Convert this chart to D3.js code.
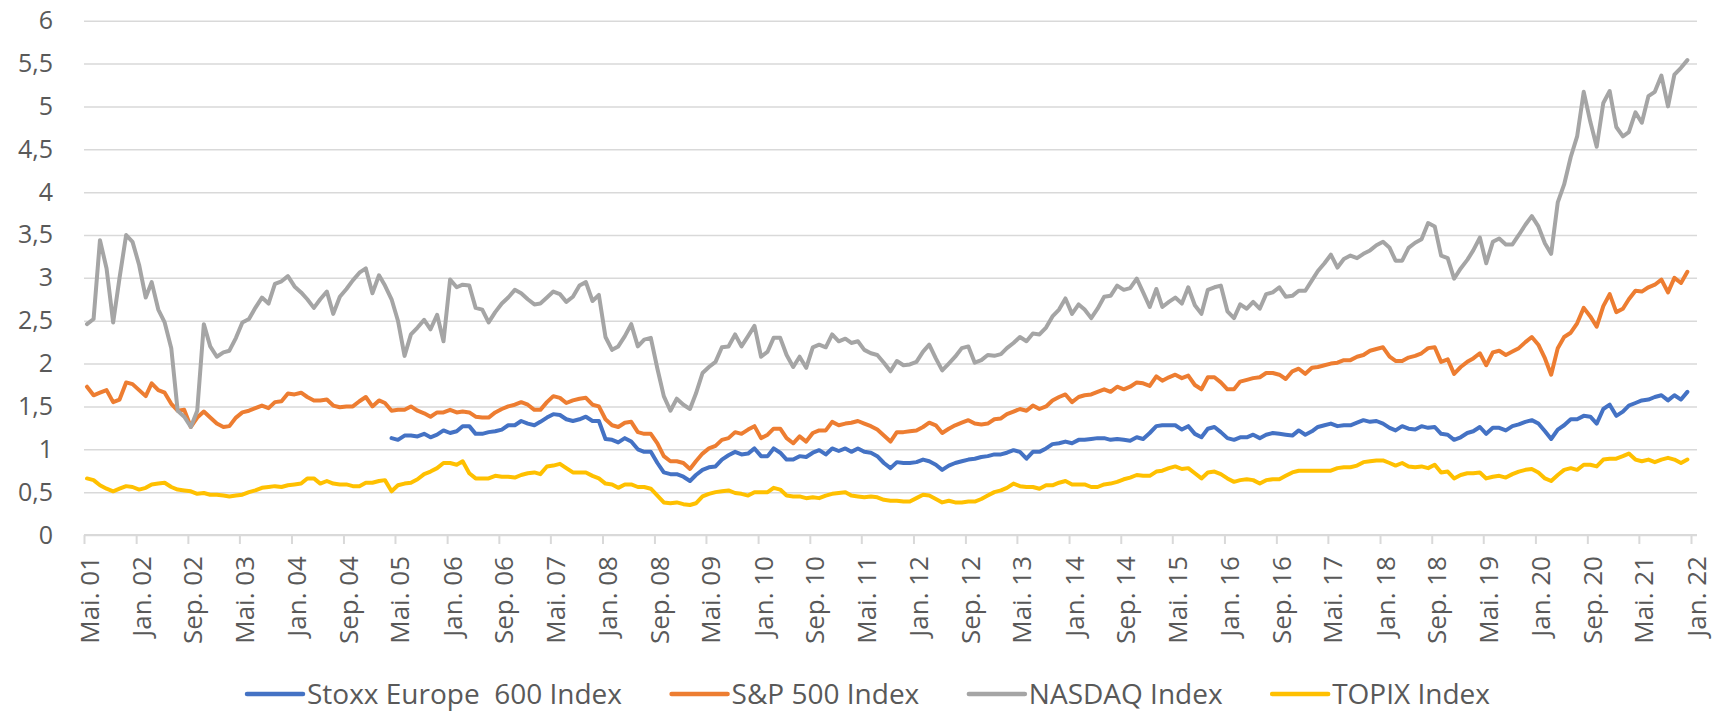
<!DOCTYPE html>
<html>
<head>
<meta charset="utf-8">
<script src="https://cdn.jsdelivr.net/npm/d3@7"></script>
<style>
  body { margin: 0; background: #fff; }
  svg text { font-family: "Open Sans", sans-serif; fill: #595959; }
</style>
</head>
<body>
<svg id="chart" width="1714" height="711"></svg>
<script>
const width = 1714;
const height = 711;

// monthly values, first point May 2001, last point Dec 2021
const firstYear = 2001, firstMonth = 4;
const stoxxOffset = 47; // Stoxx series begins Apr 2005

const nasdaq = [
  2.46, 2.52, 3.44, 3.11, 2.48, 3.00, 3.50, 3.42, 3.15, 2.77,
  2.95, 2.63, 2.48, 2.18, 1.45, 1.38, 1.26, 1.45, 2.46, 2.20,
  2.08, 2.13, 2.15, 2.30, 2.48, 2.52, 2.65, 2.77, 2.70, 2.93,
  2.96, 3.02, 2.90, 2.83, 2.75, 2.65, 2.75, 2.84, 2.58, 2.78,
  2.87, 2.97, 3.06, 3.11, 2.82, 3.03, 2.91, 2.75, 2.50, 2.09,
  2.34, 2.42, 2.51, 2.40, 2.57, 2.26, 2.98, 2.89, 2.92, 2.91,
  2.65, 2.63, 2.48, 2.60, 2.70, 2.77, 2.86, 2.82, 2.75, 2.69,
  2.70, 2.77, 2.84, 2.81, 2.72, 2.78, 2.91, 2.95, 2.73, 2.80,
  2.31, 2.16, 2.20, 2.32, 2.46, 2.20, 2.28, 2.30, 1.94, 1.62,
  1.45, 1.59, 1.52, 1.47, 1.65, 1.89, 1.96, 2.02, 2.19, 2.20,
  2.34, 2.20, 2.32, 2.44, 2.08, 2.14, 2.30, 2.30, 2.10, 1.96,
  2.08, 1.95, 2.19, 2.22, 2.19, 2.34, 2.26, 2.29, 2.24, 2.26,
  2.16, 2.12, 2.10, 2.01, 1.91, 2.03, 1.98, 1.99, 2.02, 2.14,
  2.22, 2.06, 1.92, 2.00, 2.08, 2.18, 2.20, 2.01, 2.04, 2.10,
  2.09, 2.11, 2.18, 2.24, 2.31, 2.26, 2.35, 2.34, 2.42, 2.55,
  2.63, 2.76, 2.58, 2.69, 2.63, 2.53, 2.64, 2.78, 2.79, 2.91,
  2.86, 2.88, 2.99, 2.83, 2.66, 2.87, 2.66, 2.72, 2.77, 2.70,
  2.89, 2.68, 2.58, 2.86, 2.89, 2.91, 2.61, 2.53, 2.69, 2.64,
  2.72, 2.64, 2.81, 2.83, 2.89, 2.78, 2.79, 2.85, 2.85, 2.97,
  3.08, 3.17, 3.27, 3.12, 3.22, 3.26, 3.23, 3.28, 3.32, 3.38,
  3.42, 3.35, 3.20, 3.20, 3.35, 3.41, 3.45, 3.64, 3.60, 3.26,
  3.23, 2.99, 3.11, 3.21, 3.32, 3.47, 3.17, 3.42, 3.46, 3.39,
  3.39, 3.50, 3.62, 3.72, 3.60, 3.40, 3.28, 3.88, 4.09, 4.41,
  4.65, 5.17, 4.82, 4.53, 5.04, 5.18, 4.76, 4.65, 4.70, 4.93,
  4.81, 5.12, 5.17, 5.36, 5.00, 5.37, 5.45, 5.54
];

const sp500 = [
  1.73, 1.63, 1.66, 1.69, 1.55, 1.58, 1.78, 1.76, 1.69, 1.62,
  1.77, 1.69, 1.66, 1.53, 1.45, 1.46, 1.26, 1.37, 1.44, 1.37,
  1.30, 1.26, 1.27, 1.37, 1.43, 1.45, 1.48, 1.51, 1.48, 1.55,
  1.56, 1.65, 1.64, 1.66, 1.61, 1.57, 1.57, 1.58, 1.51, 1.49,
  1.50, 1.50, 1.56, 1.61, 1.50, 1.57, 1.54, 1.45, 1.46, 1.46,
  1.50, 1.45, 1.42, 1.38, 1.43, 1.43, 1.46, 1.43, 1.44, 1.43,
  1.38, 1.37, 1.37, 1.43, 1.47, 1.50, 1.52, 1.55, 1.52, 1.46,
  1.46, 1.55, 1.62, 1.60, 1.54, 1.57, 1.59, 1.60, 1.52, 1.50,
  1.35, 1.28, 1.26, 1.31, 1.32, 1.20, 1.18, 1.18, 1.07, 0.92,
  0.86, 0.86, 0.84, 0.77, 0.86, 0.95, 1.01, 1.04, 1.11, 1.13,
  1.20, 1.18, 1.23, 1.27, 1.13, 1.17, 1.24, 1.24, 1.13, 1.07,
  1.15, 1.09, 1.19, 1.22, 1.22, 1.32, 1.28, 1.30, 1.31, 1.33,
  1.30, 1.27, 1.23, 1.16, 1.09, 1.20, 1.20, 1.21, 1.22, 1.26,
  1.31, 1.28, 1.19, 1.24, 1.28, 1.31, 1.34, 1.30, 1.29, 1.30,
  1.35, 1.36, 1.41, 1.44, 1.47, 1.45, 1.51, 1.47, 1.50, 1.57,
  1.61, 1.64, 1.55, 1.61, 1.63, 1.64, 1.67, 1.70, 1.67, 1.73,
  1.70, 1.73, 1.78, 1.77, 1.74, 1.85, 1.80, 1.84, 1.87, 1.83,
  1.86, 1.75, 1.70, 1.84, 1.84, 1.78, 1.70, 1.70, 1.79, 1.81,
  1.83, 1.84, 1.89, 1.89, 1.87, 1.82, 1.91, 1.94, 1.88, 1.95,
  1.96, 1.98, 2.00, 2.01, 2.04, 2.04, 2.08, 2.10, 2.15, 2.17,
  2.19, 2.08, 2.03, 2.03, 2.07, 2.09, 2.12, 2.18, 2.19, 2.02,
  2.05, 1.88, 1.96, 2.02, 2.06, 2.12, 1.98, 2.13, 2.15, 2.10,
  2.14, 2.18, 2.25, 2.31, 2.22, 2.06, 1.87, 2.18, 2.31, 2.36,
  2.47, 2.65, 2.55, 2.43, 2.67, 2.81, 2.60, 2.64, 2.75, 2.85,
  2.84, 2.89, 2.92, 2.98, 2.83, 3.00, 2.94, 3.07
];

const stoxx = [
  1.13, 1.11, 1.16, 1.16, 1.15, 1.18, 1.14, 1.17, 1.22, 1.19,
  1.21, 1.27, 1.27, 1.18, 1.18, 1.20, 1.21, 1.23, 1.28, 1.28,
  1.33, 1.30, 1.28, 1.32, 1.37, 1.41, 1.40, 1.35, 1.33, 1.35,
  1.38, 1.33, 1.33, 1.12, 1.11, 1.08, 1.13, 1.09, 1.00, 0.97,
  0.97, 0.84, 0.73, 0.71, 0.71, 0.68, 0.63, 0.70, 0.76, 0.79,
  0.80, 0.88, 0.93, 0.97, 0.94, 0.95, 1.01, 0.92, 0.92, 1.01,
  0.96, 0.88, 0.88, 0.92, 0.91, 0.96, 0.99, 0.94, 1.01, 0.98,
  1.01, 0.97, 1.01, 0.97, 0.96, 0.92, 0.84, 0.78, 0.85, 0.84,
  0.84, 0.85, 0.88, 0.86, 0.82, 0.76, 0.81, 0.84, 0.86, 0.88,
  0.89, 0.91, 0.92, 0.94, 0.94, 0.96, 0.99, 0.97, 0.89, 0.97,
  0.97, 1.01, 1.06, 1.07, 1.09, 1.07, 1.11, 1.11, 1.12, 1.13,
  1.13, 1.11, 1.12, 1.11, 1.10, 1.14, 1.12, 1.19, 1.27, 1.28,
  1.28, 1.28, 1.23, 1.27, 1.18, 1.14, 1.24, 1.26, 1.20, 1.13,
  1.11, 1.14, 1.14, 1.17, 1.13, 1.17, 1.19, 1.18, 1.17, 1.16,
  1.22, 1.17, 1.21, 1.26, 1.28, 1.30, 1.27, 1.28, 1.28, 1.31,
  1.34, 1.32, 1.33, 1.30, 1.25, 1.22, 1.27, 1.24, 1.23, 1.27,
  1.25, 1.26, 1.18, 1.17, 1.11, 1.14, 1.19, 1.21, 1.26, 1.18,
  1.25, 1.25, 1.22, 1.27, 1.29, 1.32, 1.34, 1.30, 1.21, 1.12,
  1.23, 1.28, 1.35, 1.35, 1.39, 1.38, 1.30, 1.47, 1.52, 1.39,
  1.44, 1.51, 1.54, 1.57, 1.58, 1.61, 1.63, 1.57, 1.63, 1.58,
  1.67
];

const topix = [
  0.66, 0.64, 0.58, 0.54, 0.51, 0.54, 0.57, 0.56, 0.53, 0.55,
  0.59, 0.60, 0.61, 0.56, 0.53, 0.52, 0.51, 0.48, 0.49, 0.47,
  0.47, 0.46, 0.45, 0.46, 0.47, 0.50, 0.52, 0.55, 0.56, 0.57,
  0.56, 0.58, 0.59, 0.60, 0.66, 0.66, 0.60, 0.63, 0.60, 0.59,
  0.59, 0.57, 0.57, 0.61, 0.61, 0.63, 0.64, 0.51, 0.58, 0.60,
  0.61, 0.65, 0.71, 0.74, 0.78, 0.84, 0.84, 0.82, 0.86, 0.72,
  0.66, 0.66, 0.66, 0.69, 0.68, 0.68, 0.67, 0.70, 0.72, 0.73,
  0.71, 0.80, 0.81, 0.83, 0.78, 0.73, 0.73, 0.73, 0.69, 0.66,
  0.60, 0.59, 0.55, 0.59, 0.59, 0.56, 0.56, 0.54, 0.46, 0.38,
  0.37, 0.38, 0.36, 0.35, 0.37, 0.45, 0.48, 0.50, 0.51, 0.52,
  0.49, 0.48, 0.46, 0.50, 0.50, 0.50, 0.55, 0.53, 0.46, 0.45,
  0.45, 0.43, 0.44, 0.43, 0.46, 0.48, 0.49, 0.50, 0.46, 0.45,
  0.44, 0.45, 0.44, 0.41, 0.40, 0.40, 0.39, 0.39, 0.43, 0.47,
  0.46, 0.42, 0.38, 0.40, 0.38, 0.38, 0.39, 0.39, 0.42, 0.46,
  0.50, 0.52, 0.55, 0.60, 0.57, 0.56, 0.56, 0.54, 0.58, 0.58,
  0.61, 0.63, 0.59, 0.59, 0.59, 0.56, 0.56, 0.59, 0.60, 0.62,
  0.65, 0.67, 0.70, 0.69, 0.69, 0.74, 0.75, 0.78, 0.80, 0.77,
  0.78, 0.72, 0.66, 0.73, 0.74, 0.71, 0.66, 0.62, 0.64, 0.65,
  0.64, 0.60, 0.64, 0.65, 0.65, 0.69, 0.73, 0.75, 0.75, 0.75,
  0.75, 0.75, 0.75, 0.78, 0.79, 0.79, 0.81, 0.85, 0.86, 0.87,
  0.87, 0.84, 0.81, 0.84, 0.80, 0.79, 0.80, 0.78, 0.82, 0.73,
  0.74, 0.66, 0.70, 0.72, 0.72, 0.73, 0.66, 0.68, 0.69, 0.67,
  0.71, 0.74, 0.76, 0.77, 0.73, 0.66, 0.63, 0.70, 0.76, 0.78,
  0.76, 0.82, 0.82, 0.80, 0.88, 0.89, 0.89, 0.92, 0.95, 0.88,
  0.86, 0.88, 0.85, 0.88, 0.90, 0.88, 0.84, 0.88
];

const tickLabels = [
  "Mai. 01", "Jan. 02", "Sep. 02", "Mai. 03", "Jan. 04", "Sep. 04", "Mai. 05", "Jan. 06",
  "Sep. 06", "Mai. 07", "Jan. 08", "Sep. 08", "Mai. 09", "Jan. 10", "Sep. 10", "Mai. 11",
  "Jan. 12", "Sep. 12", "Mai. 13", "Jan. 14", "Sep. 14", "Mai. 15", "Jan. 16", "Sep. 16",
  "Mai. 17", "Jan. 18", "Sep. 18", "Mai. 19", "Jan. 20", "Sep. 20", "Mai. 21", "Jan. 22"
];
const yTicks = [0, 0.5, 1, 1.5, 2, 2.5, 3, 3.5, 4, 4.5, 5, 5.5, 6];

const seriesNames = ["Stoxx Europe  600 Index", "S&P 500 Index", "NASDAQ Index", "TOPIX Index"];
const seriesColors = ["#4472C4", "#ED7D31", "#A5A5A5", "#FFC000"];

// plot frame
const plotLeft = 84, plotRight = 1697, axisEnd = 1691;
const yTop = 20.7, yBottom = 535;

const svg = d3.select("#chart");

const monthIdx = { "Jan.": 0, "Mai.": 4, "Sep.": 8 };
const tickDates = tickLabels.map(s => {
  const [m, yy] = s.split(" ");
  return new Date(2000 + +yy, monthIdx[m], 1);
});

const x = d3.scaleTime()
  .domain([tickDates[0], tickDates[tickDates.length - 1]])
  .range([plotLeft, axisEnd]);

const y = d3.scaleLinear()
  .domain([0, 6])
  .range([yBottom, yTop]);

const de = d3.formatLocale({ decimal: ",", thousands: ".", grouping: [3], currency: ["", " €"] });
const fmt = de.format("~g");

// gridlines + y labels
const yAxis = svg.append("g")
  .attr("transform", `translate(${plotLeft},0)`)
  .call(d3.axisLeft(y).tickValues(yTicks).tickSize(-(plotRight - plotLeft)).tickPadding(31).tickFormat(fmt));
yAxis.select(".domain").remove();
yAxis.selectAll(".tick line").attr("stroke", "#d9d9d9").attr("stroke-width", 1.5);
yAxis.selectAll(".tick text")
  .attr("font-size", 25)
  .attr("fill", "#595959")
  .attr("font-family", "Open Sans");

// x axis
const xAxis = svg.append("g")
  .attr("transform", `translate(0,${yBottom})`)
  .call(d3.axisBottom(x).tickValues(tickDates).tickSize(9).tickFormat((d, i) => tickLabels[i]));
xAxis.select(".domain").remove();
xAxis.selectAll(".tick line").attr("stroke", "#d9d9d9").attr("stroke-width", 2);
xAxis.selectAll(".tick text")
  .attr("x", 0).attr("y", 0).attr("dy", null)
  .attr("transform", "translate(14,21) rotate(-90)")
  .attr("text-anchor", "end")
  .attr("font-size", 26)
  .attr("fill", "#595959")
  .attr("font-family", "Open Sans");

svg.append("line")
  .attr("x1", plotLeft).attr("x2", plotRight)
  .attr("y1", yBottom).attr("y2", yBottom)
  .attr("stroke", "#d9d9d9").attr("stroke-width", 2);

// build series
function toPoints(values, offset) {
  return values.map((v, i) => ({
    date: new Date(firstYear, firstMonth + offset + i, 15),
    value: v
  }));
}
const series = [
  toPoints(stoxx, stoxxOffset),
  toPoints(sp500, 0),
  toPoints(nasdaq, 0),
  toPoints(topix, 0)
];

const line = d3.line()
  .x(d => x(d.date))
  .y(d => y(d.value));

svg.append("g")
  .selectAll("path")
  .data(series)
  .join("path")
  .attr("d", line)
  .attr("fill", "none")
  .attr("stroke", (d, i) => seriesColors[i])
  .attr("stroke-width", 4)
  .attr("stroke-linejoin", "round")
  .attr("stroke-linecap", "round");

// legend
const legendY = 694, swatch = 56, legendLeft = 247, legendRight = 1490;
const legend = svg.append("g");
const items = legend.selectAll("g")
  .data(seriesNames)
  .join("g");
items.append("line")
  .attr("x1", 0).attr("x2", swatch)
  .attr("y1", legendY).attr("y2", legendY)
  .attr("stroke", (d, i) => seriesColors[i])
  .attr("stroke-width", 4.5)
  .attr("stroke-linecap", "round");
items.append("text")
  .attr("x", swatch + 4)
  .attr("y", legendY)
  .attr("dy", "0.35em")
  .attr("font-size", 28)
  .style("white-space", "pre")
  .text(d => d);

const widths = [];
items.each(function () {
  widths.push(swatch + 4 + d3.select(this).select("text").node().getComputedTextLength());
});
const gap = (legendRight - legendLeft - d3.sum(widths)) / (widths.length - 1);
let cx = legendLeft;
items.attr("transform", (d, i) => {
  const t = `translate(${cx},0)`;
  cx += widths[i] + gap;
  return t;
});
</script>
</body>
</html>
